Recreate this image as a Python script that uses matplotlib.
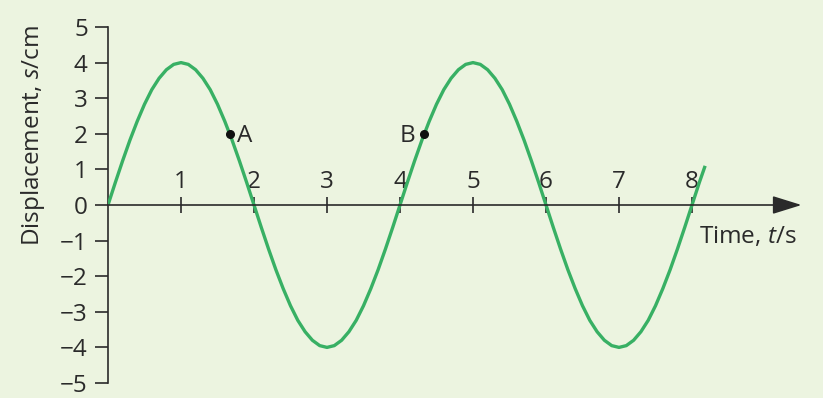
import matplotlib.pyplot as plt

plt.rcParams['font.family'] = ['Open Sans', 'DejaVu Sans']
plt.rcParams['mathtext.fontset'] = 'custom'
plt.rcParams['mathtext.rm'] = 'Open Sans'
plt.rcParams['mathtext.it'] = 'Open Sans:italic'

# displacement, every 0.1 s
half = [0.0, 0.63, 1.24, 1.82, 2.35, 2.83, 3.24, 3.56, 3.80, 3.95,
        4.00, 3.95, 3.80, 3.56, 3.24, 2.83, 2.35, 1.82, 1.24, 0.63]
time = [round(i * 0.1, 1) for i in range(82)] + [8.18]
disp = (half + [-v for v in half]) * 2 + [0.0, 0.63, 1.1]

points_t = [1.67, 4.33]
points_s = [2, 2]
point_names = ['A', 'B']

xticks = [1, 2, 3, 4, 5, 6, 7, 8]
yticks = [-5, -4, -3, -2, -1, 0, 1, 2, 3, 4, 5]

bg = '#ecf4e0'
ink = '#2a2a2a'
green = '#38b064'
fs = 17.5

fig = plt.figure(figsize=(8.23, 3.98), dpi=100, facecolor=bg)
ax = fig.add_axes([108/823, 15/398, 700.8/823, 356/398])
ax.set_facecolor(bg)
ax.set_xlim(0, 9.6)
ax.set_ylim(-5, 5)

ax.plot(time, disp, color=green, lw=2.4, solid_capstyle='butt', zorder=3)
ax.plot(points_t, points_s, 'o', color='#111111', ms=5.5, zorder=4)
ax.text(points_t[0] + 0.1, points_s[0] - 0.05, point_names[0], fontsize=fs,
        color=ink, ha='left', va='center')
ax.text(points_t[1] - 0.12, points_s[1] - 0.05, point_names[1], fontsize=fs,
        color=ink, ha='right', va='center')

for s in ['right', 'bottom', 'top']:
    ax.spines[s].set_visible(False)
ax.spines['left'].set_color(ink)
ax.spines['left'].set_linewidth(1.2)
ax.spines['top'].set_position(('data', 0))
ax.xaxis.tick_top()

ax.annotate('', xy=(9.5, 0), xytext=(0, 0),
            arrowprops=dict(arrowstyle='-|>,head_length=0.9,head_width=0.28',
                            color=ink, lw=1.2, mutation_scale=20,
                            shrinkA=0, shrinkB=0))

ax.set_xticks(xticks)
ax.set_xticklabels([str(v) for v in xticks])
ax.set_yticks(yticks)
ax.set_yticklabels([str(v).replace('-', '\u2212') for v in yticks])
ax.tick_params(axis='x', direction='inout', length=11.5, width=1.2,
               color=ink, labelcolor=ink, labelsize=fs, pad=2.5)
ax.tick_params(axis='y', direction='out', length=9.5, width=1.2,
               color=ink, labelcolor=ink, labelsize=fs, pad=5)

fig.text(33/823, 1 - 136/398, r'Displacement, $\mathit{s}$/cm', rotation=90,
         ha='center', va='center', fontsize=fs, color=ink)
ax.text(8.1, -0.9, r'Time, $\mathit{t}$/s', fontsize=fs, color=ink,
        ha='left', va='center')

fig.savefig('out.png', dpi=100, facecolor=bg)
